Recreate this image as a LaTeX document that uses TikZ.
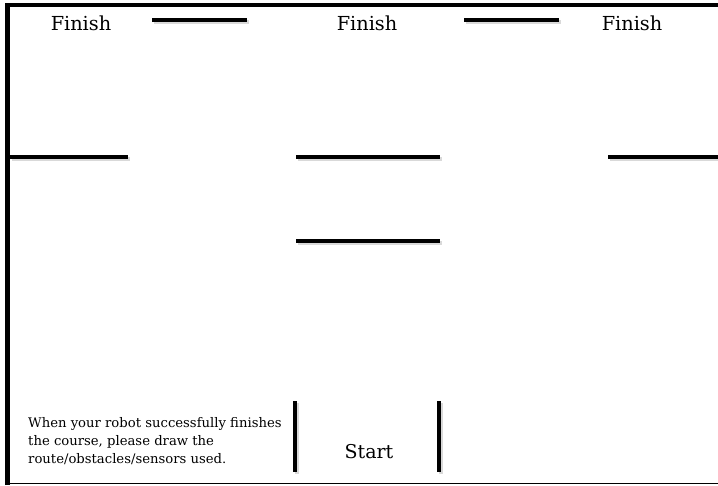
\documentclass[tikz,border=0pt]{standalone}
\usepackage{fontspec}
\setmainfont{DejaVu Serif}
\begin{document}
\begin{tikzpicture}[x=1pt,y=-1pt,
  wall/.style={line width=4pt},
  shade/.style={line width=4pt,draw=black!25,opacity=0.6},
  lbl/.style={font=\fontsize{19.3}{19.3}\selectfont,inner sep=0pt,anchor=base},
  note/.style={font=\fontsize{13.2}{18}\selectfont,align=left,inner sep=0pt,anchor=base west}]
\useasboundingbox (0,0) rectangle (718,485);
% outer border
\coordinate (tl) at (7.5,5);
\coordinate (tr) at (718,5);
\coordinate (bl) at (7.5,485);
\coordinate (bl2) at (10,483.5);
\coordinate (br) at (718,483.5);
\draw[line width=4pt] (tl) -- (tr);
\draw[line width=5pt] (bl) -- (7.5,3);
\draw[line width=1pt] (bl2) -- (br);
% walls
\foreach \name/\ax/\ay/\bx/\by in {
  w1/152/20/247/20, w2/464/20/559/20,
  w3/10/157/128/157, w4/296/157/440/157, w5/608/157/718/157,
  w6/296/241/440/241,
  w7/295/401/295/472, w8/439/401/439/472}{
  \coordinate (\name a) at (\ax,\ay);
  \coordinate (\name b) at (\bx,\by);
  \draw[shade] ([shift={(1.5,2)}]\name a) -- ([shift={(1.5,2)}]\name b);
  \draw[wall] (\name a) -- (\name b);
}
% labels
\node[lbl] (f1) at (81,30) {Finish};
\node[lbl] (f2) at (367,30) {Finish};
\node[lbl] (f3) at (632,30) {Finish};
\node[lbl,font=\fontsize{19}{19}\selectfont] (start) at (369,458) {Start};
\node[note] (info) at (28,463) {When your robot successfully finishes\\the course, please draw the\\route/obstacles/sensors used.};
\end{tikzpicture}
\end{document}
